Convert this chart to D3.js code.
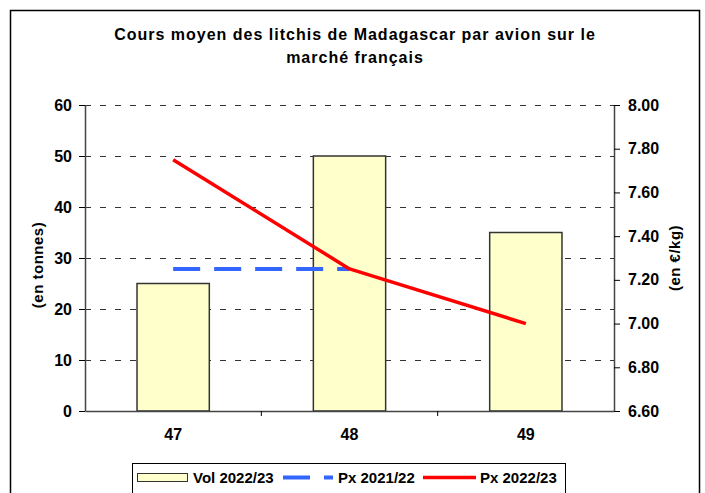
<!DOCTYPE html>
<html>
<head>
<meta charset="utf-8">
<script src="https://cdn.jsdelivr.net/npm/d3@7"></script>
<style>
  body { margin: 0; background: #fff; }
  text { font-family: "Liberation Sans", Arial, sans-serif; font-weight: bold; fill: #000; }
</style>
</head>
<body>
<script>
var width = 705,
    height = 493;

// data
var weeks = ['47', '48', '49'];
var vol2223 = [25, 50, 35];
var px2122 = [7.25, 7.25, null];
var px2223 = [7.75, 7.25, 7.00];
var volTicks = [0, 10, 20, 30, 40, 50, 60];
var priceTicks = [6.60, 6.80, 7.00, 7.20, 7.40, 7.60, 7.80, 8.00];

var plotLeft = 85, plotRight = 614, plotTop = 105, plotBottom = 411;

var svg = d3.select('body').append('svg')
    .attr('width', width)
    .attr('height', height);

svg.append('rect').attr('x', 0).attr('y', 0).attr('width', width).attr('height', height).attr('fill', '#fff');

// outer frame
svg.append('rect')
    .attr('x', 10.5).attr('y', 10.5)
    .attr('width', 689).attr('height', 492)
    .attr('fill', 'none').attr('stroke', '#000').attr('stroke-width', 1.5);

// title
var title = svg.append('text').attr('text-anchor', 'middle')
    .style('font-size', '16px').style('letter-spacing', '1px');
title.append('tspan').attr('x', 355).attr('y', 40).text('Cours moyen des litchis de Madagascar par avion sur le');
title.append('tspan').attr('x', 355).attr('y', 63).text('marché français');

var x = d3.scaleBand().domain(weeks).range([plotLeft, plotRight]).paddingInner(0.59).paddingOuter(0.295);
var xc = d3.scaleBand().domain(weeks).range([plotLeft, plotRight]);
var yL = d3.scaleLinear().domain([0, 60]).range([plotBottom, plotTop]);
var yR = d3.scaleLinear().domain([6.6, 8.0]).range([plotBottom, plotTop]);

// gridlines
svg.append('g').selectAll('line')
    .data(volTicks.filter(function(d){ return d > 0; }))
    .enter().append('line')
    .attr('x1', plotLeft).attr('x2', plotRight)
    .attr('y1', function(d){ return Math.round(yL(d)) + 0.5; })
    .attr('y2', function(d){ return Math.round(yL(d)) + 0.5; })
    .attr('stroke', '#333').attr('stroke-width', 1)
    .attr('stroke-dasharray', '6,9');

// bars
svg.append('g').selectAll('rect')
    .data(vol2223)
    .enter().append('rect')
    .attr('x', function(d, i){ return x(weeks[i]); })
    .attr('y', function(d){ return yL(d); })
    .attr('width', x.bandwidth())
    .attr('height', function(d){ return plotBottom - yL(d); })
    .attr('fill', '#FFFFCC')
    .attr('stroke', '#333').attr('stroke-width', 1.5);

// axes
var axL = svg.append('g').attr('transform', 'translate(' + plotLeft + ',0)')
    .call(d3.axisLeft(yL).tickValues(volTicks).tickSize(6).tickPadding(7).tickSizeOuter(0));
var axR = svg.append('g').attr('transform', 'translate(' + plotRight + ',0)')
    .call(d3.axisRight(yR).tickValues(priceTicks).tickSize(6).tickPadding(8).tickSizeOuter(0)
        .tickFormat(d3.format('.2f')));
var axB = svg.append('g').attr('transform', 'translate(0,' + plotBottom + ')')
    .call(d3.axisBottom(xc).tickSize(0).tickPadding(18).tickSizeOuter(0));

[axL, axR, axB].forEach(function(a){
  a.select('.domain').attr('stroke', '#444').attr('stroke-width', 1.5);
  a.selectAll('.tick line').attr('stroke', '#000');
  a.selectAll('text').style('font-size', '16px').style('font-family', '"Liberation Sans", Arial, sans-serif').style('font-weight', 'bold');
});

// category separators on x axis
svg.append('g').selectAll('line')
    .data(weeks.slice(1))
    .enter().append('line')
    .attr('x1', function(d){ return xc(d); })
    .attr('x2', function(d){ return xc(d); })
    .attr('y1', plotBottom).attr('y2', plotBottom + 5)
    .attr('stroke', '#000');

// axis titles
svg.append('text')
    .attr('transform', 'translate(43,265) rotate(-90)')
    .attr('text-anchor', 'middle').style('font-size', '15px').style('letter-spacing', '0.5px')
    .text('(en tonnes)');
svg.append('text')
    .attr('transform', 'translate(680,258) rotate(-90)')
    .attr('text-anchor', 'middle').style('font-size', '15px').style('letter-spacing', '0.5px')
    .text('(en €/kg)');

// lines
var line = d3.line()
    .defined(function(d){ return d != null; })
    .x(function(d, i){ return xc(weeks[i]) + xc.bandwidth() / 2; })
    .y(function(d){ return yR(d); });

svg.append('path').datum(px2122)
    .attr('d', line).attr('fill', 'none')
    .attr('stroke', '#3366FF').attr('stroke-width', 4)
    .attr('stroke-dasharray', '27,14');

svg.append('path').datum(px2223)
    .attr('d', line).attr('fill', 'none')
    .attr('stroke', '#FF0000').attr('stroke-width', 3.5)
    .attr('stroke-linejoin', 'round');

// legend
var lg = svg.append('g');
lg.append('rect').attr('x', 132.5).attr('y', 463.5).attr('width', 433).attr('height', 32)
    .attr('fill', '#fff').attr('stroke', '#000').attr('stroke-width', 1);
lg.append('rect').attr('x', 137.5).attr('y', 473.5).attr('width', 50).attr('height', 8)
    .attr('fill', '#FFFFCC').attr('stroke', '#333');
lg.append('text').attr('x', 193).attr('y', 483).style('font-size', '15px').text('Vol 2022/23');
lg.append('line').attr('x1', 283).attr('x2', 333).attr('y1', 477.5).attr('y2', 477.5)
    .attr('stroke', '#3366FF').attr('stroke-width', 4).attr('stroke-dasharray', '27,14');
lg.append('text').attr('x', 338).attr('y', 483).style('font-size', '15px').text('Px 2021/22');
lg.append('line').attr('x1', 423).attr('x2', 476).attr('y1', 477.5).attr('y2', 477.5)
    .attr('stroke', '#FF0000').attr('stroke-width', 3.5);
lg.append('text').attr('x', 480).attr('y', 483).style('font-size', '15px').text('Px 2022/23');
</script>
</body>
</html>
